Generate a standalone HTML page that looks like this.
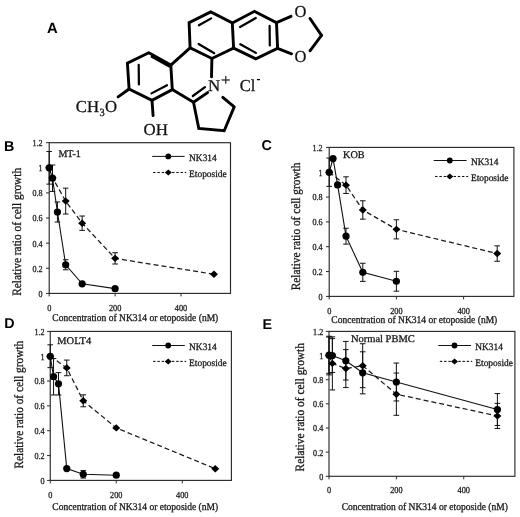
<!DOCTYPE html>
<html><head><meta charset="utf-8"><title>NK314 figure</title>
<style>html,body{margin:0;padding:0;background:#fff;}svg{display:block;}text{text-rendering:geometricPrecision;} .tk{stroke:#222;stroke-width:0.3px;}</style></head>
<body><svg width="520" height="517" viewBox="0 0 520 517">
<rect width="520" height="517" fill="#fff"/>
<text x="47.00" y="33.20" font-family="'Liberation Sans',Arial,sans-serif" font-size="14.8" font-weight="bold" fill="#000">A</text>
<text x="3.90" y="150.90" font-family="'Liberation Sans',Arial,sans-serif" font-size="14.3" font-weight="bold" fill="#000">B</text>
<text x="261.60" y="150.30" font-family="'Liberation Sans',Arial,sans-serif" font-size="14.3" font-weight="bold" fill="#000">C</text>
<text x="4.20" y="328.10" font-family="'Liberation Sans',Arial,sans-serif" font-size="14.3" font-weight="bold" fill="#000">D</text>
<text x="262.40" y="328.90" font-family="'Liberation Sans',Arial,sans-serif" font-size="14.3" font-weight="bold" fill="#000">E</text>
<g stroke-linecap="round">
<polyline points="170.80,65.10 172.30,89.60 152.00,100.30 129.10,89.00 127.40,63.20 148.80,52.80" fill="none" stroke="#000" stroke-width="2.9" stroke-linejoin="miter" stroke-linecap="butt"/>
<line x1="148.80" y1="52.80" x2="170.80" y2="65.10" stroke="#000" stroke-width="2.9"/>
<line x1="151.05" y1="56.01" x2="169.97" y2="66.58" stroke="#000" stroke-width="2.9" stroke-linecap="butt"/>
<line x1="138.70" y1="64.80" x2="138.90" y2="84.40" stroke="#000" stroke-width="2.2"/>
<line x1="151.50" y1="93.40" x2="167.00" y2="85.20" stroke="#000" stroke-width="2.2"/>
<line x1="129.10" y1="89.00" x2="118.10" y2="96.90" stroke="#000" stroke-width="2.9"/>
<line x1="152.00" y1="100.30" x2="153.10" y2="115.60" stroke="#000" stroke-width="2.9"/>
<line x1="170.80" y1="65.10" x2="190.10" y2="47.80" stroke="#000" stroke-width="2.9"/>
<line x1="172.30" y1="89.60" x2="193.50" y2="102.30" stroke="#000" stroke-width="2.9"/>
<polygon points="210.80,11.90 189.10,22.60 190.10,47.80 211.90,58.50 233.60,48.10 232.30,23.00" fill="none" stroke="#000" stroke-width="2.9" stroke-linejoin="miter" stroke-linecap="butt"/>
<line x1="198.90" y1="25.30" x2="211.20" y2="18.40" stroke="#000" stroke-width="2.2"/>
<line x1="198.60" y1="44.00" x2="214.30" y2="53.20" stroke="#000" stroke-width="2.2"/>
<polyline points="232.30,23.00 254.50,11.30 276.50,22.60 277.60,48.40 255.80,58.80 233.60,48.10" fill="none" stroke="#000" stroke-width="2.9" stroke-linejoin="miter" stroke-linecap="butt"/>
<line x1="240.10" y1="27.00" x2="255.80" y2="18.00" stroke="#000" stroke-width="2.2"/>
<line x1="269.60" y1="25.90" x2="269.80" y2="45.50" stroke="#000" stroke-width="2.2"/>
<line x1="240.30" y1="44.20" x2="255.90" y2="52.90" stroke="#000" stroke-width="2.2"/>
<line x1="276.50" y1="22.60" x2="291.00" y2="16.30" stroke="#000" stroke-width="2.9"/>
<line x1="277.60" y1="48.40" x2="291.50" y2="53.80" stroke="#000" stroke-width="2.9"/>
<line x1="310.00" y1="18.50" x2="321.50" y2="35.40" stroke="#000" stroke-width="2.9"/>
<line x1="321.50" y1="35.40" x2="310.00" y2="50.80" stroke="#000" stroke-width="2.9"/>
<line x1="211.90" y1="58.50" x2="211.50" y2="76.90" stroke="#000" stroke-width="2.9"/>
<line x1="193.50" y1="102.30" x2="207.60" y2="92.60" stroke="#000" stroke-width="2.9"/>
<line x1="192.80" y1="96.00" x2="205.00" y2="87.20" stroke="#000" stroke-width="2.2"/>
<line x1="222.80" y1="97.40" x2="234.20" y2="106.90" stroke="#000" stroke-width="2.9"/>
<polyline points="234.20,106.90 224.20,130.80 198.80,128.50 193.50,102.30" fill="none" stroke="#000" stroke-width="2.9" stroke-linejoin="miter" stroke-linecap="butt"/>
</g>
<text class="tk" x="294.40" y="16.60" font-family="'Liberation Serif','Times New Roman',serif" font-size="16.6" textLength="11.9" lengthAdjust="spacingAndGlyphs" fill="#111">O</text>
<text class="tk" x="294.40" y="62.10" font-family="'Liberation Serif','Times New Roman',serif" font-size="16.6" textLength="11.9" lengthAdjust="spacingAndGlyphs" fill="#111">O</text>
<text class="tk" x="208.10" y="91.30" font-family="'Liberation Serif','Times New Roman',serif" font-size="16.6" textLength="12.2" lengthAdjust="spacingAndGlyphs" fill="#111">N</text>
<text class="tk" x="221.00" y="84.60" font-family="'Liberation Serif','Times New Roman',serif" font-size="15.5" textLength="9.4" lengthAdjust="spacingAndGlyphs" fill="#111" stroke="#000" stroke-width="0.5">+</text>
<text class="tk" x="239.80" y="91.30" font-family="'Liberation Serif','Times New Roman',serif" font-size="16.6" textLength="15.6" lengthAdjust="spacingAndGlyphs" fill="#111">Cl</text>
<line x1="256.90" y1="79.60" x2="260.00" y2="79.60" stroke="#000" stroke-width="1.3"/>
<text class="tk" x="143.60" y="134.90" font-family="'Liberation Serif','Times New Roman',serif" font-size="16.6" textLength="24.4" lengthAdjust="spacingAndGlyphs" fill="#111">OH</text>
<text class="tk" x="75.80" y="111.70" font-family="'Liberation Serif','Times New Roman',serif" font-size="16.6" textLength="23.2" lengthAdjust="spacingAndGlyphs" fill="#111">CH</text>
<text class="tk" x="99.60" y="115.60" font-family="'Liberation Serif','Times New Roman',serif" font-size="11" textLength="5.2" lengthAdjust="spacingAndGlyphs" fill="#111">3</text>
<text class="tk" x="105.10" y="111.70" font-family="'Liberation Serif','Times New Roman',serif" font-size="16.6" textLength="12.1" lengthAdjust="spacingAndGlyphs" fill="#111">O</text>
<rect x="49.20" y="142.70" width="181.30" height="150.70" fill="none" stroke="#2a2a2a" stroke-width="1.15"/>
<line x1="46.00" y1="293.40" x2="49.20" y2="293.40" stroke="#2a2a2a" stroke-width="1"/>
<text class="tk" transform="translate(42.60,296.80) scale(0.88,1)" font-family="'Liberation Serif','Times New Roman',serif" font-size="9.2" text-anchor="end" fill="#222">0</text>
<line x1="46.00" y1="268.28" x2="49.20" y2="268.28" stroke="#2a2a2a" stroke-width="1"/>
<text class="tk" transform="translate(42.60,271.68) scale(0.88,1)" font-family="'Liberation Serif','Times New Roman',serif" font-size="9.2" text-anchor="end" fill="#222">0.2</text>
<line x1="46.00" y1="243.16" x2="49.20" y2="243.16" stroke="#2a2a2a" stroke-width="1"/>
<text class="tk" transform="translate(42.60,246.56) scale(0.88,1)" font-family="'Liberation Serif','Times New Roman',serif" font-size="9.2" text-anchor="end" fill="#222">0.4</text>
<line x1="46.00" y1="218.04" x2="49.20" y2="218.04" stroke="#2a2a2a" stroke-width="1"/>
<text class="tk" transform="translate(42.60,221.44) scale(0.88,1)" font-family="'Liberation Serif','Times New Roman',serif" font-size="9.2" text-anchor="end" fill="#222">0.6</text>
<line x1="46.00" y1="192.92" x2="49.20" y2="192.92" stroke="#2a2a2a" stroke-width="1"/>
<text class="tk" transform="translate(42.60,196.32) scale(0.88,1)" font-family="'Liberation Serif','Times New Roman',serif" font-size="9.2" text-anchor="end" fill="#222">0.8</text>
<line x1="46.00" y1="167.80" x2="49.20" y2="167.80" stroke="#2a2a2a" stroke-width="1"/>
<text class="tk" transform="translate(42.60,171.20) scale(0.88,1)" font-family="'Liberation Serif','Times New Roman',serif" font-size="9.2" text-anchor="end" fill="#222">1</text>
<line x1="46.00" y1="142.68" x2="49.20" y2="142.68" stroke="#2a2a2a" stroke-width="1"/>
<text class="tk" transform="translate(42.60,146.08) scale(0.88,1)" font-family="'Liberation Serif','Times New Roman',serif" font-size="9.2" text-anchor="end" fill="#222">1.2</text>
<line x1="49.20" y1="293.40" x2="49.20" y2="296.40" stroke="#2a2a2a" stroke-width="1"/>
<text class="tk" transform="translate(49.20,310.50) scale(0.9,1)" font-family="'Liberation Serif','Times New Roman',serif" font-size="9.2" text-anchor="middle" fill="#222">0</text>
<line x1="115.10" y1="293.40" x2="115.10" y2="296.40" stroke="#2a2a2a" stroke-width="1"/>
<text class="tk" transform="translate(115.10,310.50) scale(0.9,1)" font-family="'Liberation Serif','Times New Roman',serif" font-size="9.2" text-anchor="middle" fill="#222">200</text>
<line x1="181.00" y1="293.40" x2="181.00" y2="296.40" stroke="#2a2a2a" stroke-width="1"/>
<text class="tk" transform="translate(181.00,310.50) scale(0.9,1)" font-family="'Liberation Serif','Times New Roman',serif" font-size="9.2" text-anchor="middle" fill="#222">400</text>
<text class="tk" x="58.40" y="156.60" font-family="'Liberation Serif','Times New Roman',serif" font-size="10.2" textLength="22.4" lengthAdjust="spacingAndGlyphs" fill="#111">MT-1</text>
<line x1="52.50" y1="165.04" x2="52.50" y2="191.41" stroke="#111" stroke-width="1"/>
<line x1="49.70" y1="165.04" x2="55.30" y2="165.04" stroke="#111" stroke-width="1"/>
<line x1="49.70" y1="191.41" x2="55.30" y2="191.41" stroke="#111" stroke-width="1"/>
<line x1="57.44" y1="201.96" x2="57.44" y2="222.06" stroke="#111" stroke-width="1"/>
<line x1="54.64" y1="201.96" x2="60.24" y2="201.96" stroke="#111" stroke-width="1"/>
<line x1="54.64" y1="222.06" x2="60.24" y2="222.06" stroke="#111" stroke-width="1"/>
<line x1="65.68" y1="259.74" x2="65.68" y2="269.79" stroke="#111" stroke-width="1"/>
<line x1="62.88" y1="259.74" x2="68.48" y2="259.74" stroke="#111" stroke-width="1"/>
<line x1="62.88" y1="269.79" x2="68.48" y2="269.79" stroke="#111" stroke-width="1"/>
<line x1="49.20" y1="151.47" x2="49.20" y2="184.13" stroke="#111" stroke-width="1"/>
<line x1="46.40" y1="151.47" x2="52.00" y2="151.47" stroke="#111" stroke-width="1"/>
<line x1="46.40" y1="184.13" x2="52.00" y2="184.13" stroke="#111" stroke-width="1"/>
<line x1="65.68" y1="188.15" x2="65.68" y2="214.02" stroke="#111" stroke-width="1"/>
<line x1="62.88" y1="188.15" x2="68.48" y2="188.15" stroke="#111" stroke-width="1"/>
<line x1="62.88" y1="214.02" x2="68.48" y2="214.02" stroke="#111" stroke-width="1"/>
<line x1="82.15" y1="216.03" x2="82.15" y2="230.35" stroke="#111" stroke-width="1"/>
<line x1="79.35" y1="216.03" x2="84.95" y2="216.03" stroke="#111" stroke-width="1"/>
<line x1="79.35" y1="230.35" x2="84.95" y2="230.35" stroke="#111" stroke-width="1"/>
<line x1="115.10" y1="252.71" x2="115.10" y2="264.01" stroke="#111" stroke-width="1"/>
<line x1="112.30" y1="252.71" x2="117.90" y2="252.71" stroke="#111" stroke-width="1"/>
<line x1="112.30" y1="264.01" x2="117.90" y2="264.01" stroke="#111" stroke-width="1"/>
<polyline points="49.20,167.80 52.50,177.85 65.68,201.08 82.15,223.19 115.10,258.36 213.95,274.31" fill="none" stroke="#1a1a1a" stroke-width="1.25" stroke-dasharray="5,3"/>
<polyline points="49.20,167.80 52.50,178.22 57.44,212.01 65.68,264.76 82.15,283.85 115.10,288.63" fill="none" stroke="#111" stroke-width="1.1"/>
<polygon points="45.20,167.80 49.20,164.10 53.20,167.80 49.20,171.50" fill="#000"/>
<polygon points="48.50,177.85 52.50,174.15 56.50,177.85 52.50,181.55" fill="#000"/>
<polygon points="61.68,201.08 65.68,197.38 69.68,201.08 65.68,204.78" fill="#000"/>
<polygon points="78.15,223.19 82.15,219.49 86.15,223.19 82.15,226.89" fill="#000"/>
<polygon points="111.10,258.36 115.10,254.66 119.10,258.36 115.10,262.06" fill="#000"/>
<polygon points="209.95,274.31 213.95,270.61 217.95,274.31 213.95,278.01" fill="#000"/>
<circle cx="49.20" cy="167.80" r="3.6" fill="#000"/>
<circle cx="52.50" cy="178.22" r="3.6" fill="#000"/>
<circle cx="57.44" cy="212.01" r="3.6" fill="#000"/>
<circle cx="65.68" cy="264.76" r="3.6" fill="#000"/>
<circle cx="82.15" cy="283.85" r="3.6" fill="#000"/>
<circle cx="115.10" cy="288.63" r="3.6" fill="#000"/>
<line x1="152.20" y1="156.40" x2="184.60" y2="156.40" stroke="#111" stroke-width="1.0"/>
<circle cx="168.30" cy="156.40" r="2.9" fill="#000"/>
<line x1="153.10" y1="172.50" x2="155.50" y2="172.50" stroke="#111" stroke-width="1.1" stroke-linecap="butt"/>
<line x1="157.40" y1="172.50" x2="159.80" y2="172.50" stroke="#111" stroke-width="1.1" stroke-linecap="butt"/>
<line x1="161.70" y1="172.50" x2="164.10" y2="172.50" stroke="#111" stroke-width="1.1" stroke-linecap="butt"/>
<line x1="172.10" y1="172.50" x2="174.50" y2="172.50" stroke="#111" stroke-width="1.1" stroke-linecap="butt"/>
<line x1="176.30" y1="172.50" x2="178.70" y2="172.50" stroke="#111" stroke-width="1.1" stroke-linecap="butt"/>
<line x1="180.50" y1="172.50" x2="182.90" y2="172.50" stroke="#111" stroke-width="1.1" stroke-linecap="butt"/>
<line x1="184.70" y1="172.50" x2="186.20" y2="172.50" stroke="#111" stroke-width="1.1" stroke-linecap="butt"/>
<polygon points="164.80,172.50 168.30,169.50 171.80,172.50 168.30,175.50" fill="#000"/>
<text class="tk" x="189.10" y="160.60" font-family="'Liberation Serif','Times New Roman',serif" font-size="9.8" textLength="27.6" lengthAdjust="spacingAndGlyphs" fill="#111">NK314</text>
<text class="tk" x="189.10" y="176.70" font-family="'Liberation Serif','Times New Roman',serif" font-size="9.8" textLength="37.6" lengthAdjust="spacingAndGlyphs" fill="#111">Etoposide</text>
<text transform="translate(20.90,295.80) rotate(-90)" x="0" y="0" font-family="'Liberation Serif','Times New Roman',serif" font-size="12.8" class="tk" textLength="127.9" lengthAdjust="spacingAndGlyphs" fill="#111">Relative ratio of cell growth</text>
<text class="tk" x="52.30" y="320.80" font-family="'Liberation Serif','Times New Roman',serif" font-size="10.4" textLength="166.0" lengthAdjust="spacingAndGlyphs" fill="#111">Concentration of NK314 or etoposide (nM)</text>
<rect x="329.20" y="147.40" width="184.70" height="149.00" fill="none" stroke="#2a2a2a" stroke-width="1.15"/>
<line x1="326.00" y1="296.40" x2="329.20" y2="296.40" stroke="#2a2a2a" stroke-width="1"/>
<text class="tk" transform="translate(322.60,299.80) scale(0.88,1)" font-family="'Liberation Serif','Times New Roman',serif" font-size="9.2" text-anchor="end" fill="#222">0</text>
<line x1="326.00" y1="271.57" x2="329.20" y2="271.57" stroke="#2a2a2a" stroke-width="1"/>
<text class="tk" transform="translate(322.60,274.97) scale(0.88,1)" font-family="'Liberation Serif','Times New Roman',serif" font-size="9.2" text-anchor="end" fill="#222">0.2</text>
<line x1="326.00" y1="246.73" x2="329.20" y2="246.73" stroke="#2a2a2a" stroke-width="1"/>
<text class="tk" transform="translate(322.60,250.13) scale(0.88,1)" font-family="'Liberation Serif','Times New Roman',serif" font-size="9.2" text-anchor="end" fill="#222">0.4</text>
<line x1="326.00" y1="221.90" x2="329.20" y2="221.90" stroke="#2a2a2a" stroke-width="1"/>
<text class="tk" transform="translate(322.60,225.30) scale(0.88,1)" font-family="'Liberation Serif','Times New Roman',serif" font-size="9.2" text-anchor="end" fill="#222">0.6</text>
<line x1="326.00" y1="197.06" x2="329.20" y2="197.06" stroke="#2a2a2a" stroke-width="1"/>
<text class="tk" transform="translate(322.60,200.46) scale(0.88,1)" font-family="'Liberation Serif','Times New Roman',serif" font-size="9.2" text-anchor="end" fill="#222">0.8</text>
<line x1="326.00" y1="172.23" x2="329.20" y2="172.23" stroke="#2a2a2a" stroke-width="1"/>
<text class="tk" transform="translate(322.60,175.63) scale(0.88,1)" font-family="'Liberation Serif','Times New Roman',serif" font-size="9.2" text-anchor="end" fill="#222">1</text>
<line x1="326.00" y1="147.40" x2="329.20" y2="147.40" stroke="#2a2a2a" stroke-width="1"/>
<text class="tk" transform="translate(322.60,150.80) scale(0.88,1)" font-family="'Liberation Serif','Times New Roman',serif" font-size="9.2" text-anchor="end" fill="#222">1.2</text>
<line x1="329.20" y1="296.40" x2="329.20" y2="299.40" stroke="#2a2a2a" stroke-width="1"/>
<text class="tk" transform="translate(329.20,313.60) scale(0.9,1)" font-family="'Liberation Serif','Times New Roman',serif" font-size="9.2" text-anchor="middle" fill="#222">0</text>
<line x1="396.40" y1="296.40" x2="396.40" y2="299.40" stroke="#2a2a2a" stroke-width="1"/>
<text class="tk" transform="translate(396.40,313.60) scale(0.9,1)" font-family="'Liberation Serif','Times New Roman',serif" font-size="9.2" text-anchor="middle" fill="#222">200</text>
<line x1="463.60" y1="296.40" x2="463.60" y2="299.40" stroke="#2a2a2a" stroke-width="1"/>
<text class="tk" transform="translate(463.60,313.60) scale(0.9,1)" font-family="'Liberation Serif','Times New Roman',serif" font-size="9.2" text-anchor="middle" fill="#222">400</text>
<text class="tk" x="343.10" y="158.30" font-family="'Liberation Serif','Times New Roman',serif" font-size="10.2" textLength="21.5" lengthAdjust="spacingAndGlyphs" fill="#111">KOB</text>
<line x1="346.00" y1="228.23" x2="346.00" y2="244.12" stroke="#111" stroke-width="1"/>
<line x1="343.20" y1="228.23" x2="348.80" y2="228.23" stroke="#111" stroke-width="1"/>
<line x1="343.20" y1="244.12" x2="348.80" y2="244.12" stroke="#111" stroke-width="1"/>
<line x1="362.80" y1="263.25" x2="362.80" y2="281.38" stroke="#111" stroke-width="1"/>
<line x1="360.00" y1="263.25" x2="365.60" y2="263.25" stroke="#111" stroke-width="1"/>
<line x1="360.00" y1="281.38" x2="365.60" y2="281.38" stroke="#111" stroke-width="1"/>
<line x1="396.40" y1="271.32" x2="396.40" y2="291.18" stroke="#111" stroke-width="1"/>
<line x1="393.60" y1="271.32" x2="399.20" y2="271.32" stroke="#111" stroke-width="1"/>
<line x1="393.60" y1="291.18" x2="399.20" y2="291.18" stroke="#111" stroke-width="1"/>
<line x1="329.20" y1="158.07" x2="329.20" y2="186.39" stroke="#111" stroke-width="1"/>
<line x1="326.40" y1="158.07" x2="332.00" y2="158.07" stroke="#111" stroke-width="1"/>
<line x1="326.40" y1="186.39" x2="332.00" y2="186.39" stroke="#111" stroke-width="1"/>
<line x1="346.00" y1="176.82" x2="346.00" y2="193.46" stroke="#111" stroke-width="1"/>
<line x1="343.20" y1="176.82" x2="348.80" y2="176.82" stroke="#111" stroke-width="1"/>
<line x1="343.20" y1="193.46" x2="348.80" y2="193.46" stroke="#111" stroke-width="1"/>
<line x1="362.80" y1="200.79" x2="362.80" y2="219.17" stroke="#111" stroke-width="1"/>
<line x1="360.00" y1="200.79" x2="365.60" y2="200.79" stroke="#111" stroke-width="1"/>
<line x1="360.00" y1="219.17" x2="365.60" y2="219.17" stroke="#111" stroke-width="1"/>
<line x1="396.40" y1="219.79" x2="396.40" y2="238.91" stroke="#111" stroke-width="1"/>
<line x1="393.60" y1="219.79" x2="399.20" y2="219.79" stroke="#111" stroke-width="1"/>
<line x1="393.60" y1="238.91" x2="399.20" y2="238.91" stroke="#111" stroke-width="1"/>
<line x1="497.20" y1="245.86" x2="497.20" y2="261.26" stroke="#111" stroke-width="1"/>
<line x1="494.40" y1="245.86" x2="500.00" y2="245.86" stroke="#111" stroke-width="1"/>
<line x1="494.40" y1="261.26" x2="500.00" y2="261.26" stroke="#111" stroke-width="1"/>
<polyline points="329.20,172.23 346.00,185.14 362.80,209.98 396.40,229.35 497.20,253.56" fill="none" stroke="#1a1a1a" stroke-width="1.25" stroke-dasharray="5,3"/>
<polyline points="329.20,172.23 333.06,158.57 337.60,184.90 346.00,236.18 362.80,272.31 396.40,281.25" fill="none" stroke="#111" stroke-width="1.1"/>
<polygon points="325.20,172.23 329.20,168.53 333.20,172.23 329.20,175.93" fill="#000"/>
<polygon points="342.00,185.14 346.00,181.44 350.00,185.14 346.00,188.84" fill="#000"/>
<polygon points="358.80,209.98 362.80,206.28 366.80,209.98 362.80,213.68" fill="#000"/>
<polygon points="392.40,229.35 396.40,225.65 400.40,229.35 396.40,233.05" fill="#000"/>
<polygon points="493.20,253.56 497.20,249.86 501.20,253.56 497.20,257.26" fill="#000"/>
<circle cx="329.20" cy="172.23" r="3.6" fill="#000"/>
<circle cx="333.06" cy="158.57" r="3.6" fill="#000"/>
<circle cx="337.60" cy="184.90" r="3.6" fill="#000"/>
<circle cx="346.00" cy="236.18" r="3.6" fill="#000"/>
<circle cx="362.80" cy="272.31" r="3.6" fill="#000"/>
<circle cx="396.40" cy="281.25" r="3.6" fill="#000"/>
<line x1="433.70" y1="160.50" x2="466.60" y2="160.50" stroke="#111" stroke-width="1.0"/>
<circle cx="449.80" cy="160.50" r="2.9" fill="#000"/>
<line x1="435.10" y1="176.50" x2="437.50" y2="176.50" stroke="#111" stroke-width="1.1" stroke-linecap="butt"/>
<line x1="439.40" y1="176.50" x2="441.80" y2="176.50" stroke="#111" stroke-width="1.1" stroke-linecap="butt"/>
<line x1="443.70" y1="176.50" x2="446.10" y2="176.50" stroke="#111" stroke-width="1.1" stroke-linecap="butt"/>
<line x1="453.60" y1="176.50" x2="456.00" y2="176.50" stroke="#111" stroke-width="1.1" stroke-linecap="butt"/>
<line x1="457.80" y1="176.50" x2="460.20" y2="176.50" stroke="#111" stroke-width="1.1" stroke-linecap="butt"/>
<line x1="462.00" y1="176.50" x2="464.40" y2="176.50" stroke="#111" stroke-width="1.1" stroke-linecap="butt"/>
<line x1="466.20" y1="176.50" x2="468.20" y2="176.50" stroke="#111" stroke-width="1.1" stroke-linecap="butt"/>
<polygon points="446.30,176.50 449.80,173.50 453.30,176.50 449.80,179.50" fill="#000"/>
<text class="tk" x="470.90" y="164.70" font-family="'Liberation Serif','Times New Roman',serif" font-size="9.8" textLength="27.6" lengthAdjust="spacingAndGlyphs" fill="#111">NK314</text>
<text class="tk" x="470.90" y="180.70" font-family="'Liberation Serif','Times New Roman',serif" font-size="9.8" textLength="37.6" lengthAdjust="spacingAndGlyphs" fill="#111">Etoposide</text>
<text transform="translate(300.30,290.20) rotate(-90)" x="0" y="0" font-family="'Liberation Serif','Times New Roman',serif" font-size="12.8" class="tk" textLength="127.6" lengthAdjust="spacingAndGlyphs" fill="#111">Relative ratio of cell growth</text>
<text class="tk" x="331.30" y="322.70" font-family="'Liberation Serif','Times New Roman',serif" font-size="10.4" textLength="166.0" lengthAdjust="spacingAndGlyphs" fill="#111">Concentration of NK314 or etoposide (nM)</text>
<rect x="50.25" y="331.40" width="181.15" height="149.00" fill="none" stroke="#2a2a2a" stroke-width="1.15"/>
<line x1="47.05" y1="480.40" x2="50.25" y2="480.40" stroke="#2a2a2a" stroke-width="1"/>
<text class="tk" transform="translate(44.50,483.80) scale(0.88,1)" font-family="'Liberation Serif','Times New Roman',serif" font-size="9.2" text-anchor="end" fill="#222">0</text>
<line x1="47.05" y1="455.57" x2="50.25" y2="455.57" stroke="#2a2a2a" stroke-width="1"/>
<text class="tk" transform="translate(44.50,458.97) scale(0.88,1)" font-family="'Liberation Serif','Times New Roman',serif" font-size="9.2" text-anchor="end" fill="#222">0.2</text>
<line x1="47.05" y1="430.73" x2="50.25" y2="430.73" stroke="#2a2a2a" stroke-width="1"/>
<text class="tk" transform="translate(44.50,434.13) scale(0.88,1)" font-family="'Liberation Serif','Times New Roman',serif" font-size="9.2" text-anchor="end" fill="#222">0.4</text>
<line x1="47.05" y1="405.90" x2="50.25" y2="405.90" stroke="#2a2a2a" stroke-width="1"/>
<text class="tk" transform="translate(44.50,409.30) scale(0.88,1)" font-family="'Liberation Serif','Times New Roman',serif" font-size="9.2" text-anchor="end" fill="#222">0.6</text>
<line x1="47.05" y1="381.06" x2="50.25" y2="381.06" stroke="#2a2a2a" stroke-width="1"/>
<text class="tk" transform="translate(44.50,384.46) scale(0.88,1)" font-family="'Liberation Serif','Times New Roman',serif" font-size="9.2" text-anchor="end" fill="#222">0.8</text>
<line x1="47.05" y1="356.23" x2="50.25" y2="356.23" stroke="#2a2a2a" stroke-width="1"/>
<text class="tk" transform="translate(44.50,359.63) scale(0.88,1)" font-family="'Liberation Serif','Times New Roman',serif" font-size="9.2" text-anchor="end" fill="#222">1</text>
<line x1="47.05" y1="331.40" x2="50.25" y2="331.40" stroke="#2a2a2a" stroke-width="1"/>
<text class="tk" transform="translate(44.50,334.80) scale(0.88,1)" font-family="'Liberation Serif','Times New Roman',serif" font-size="9.2" text-anchor="end" fill="#222">1.2</text>
<line x1="50.25" y1="480.40" x2="50.25" y2="483.40" stroke="#2a2a2a" stroke-width="1"/>
<text class="tk" transform="translate(50.25,497.50) scale(0.9,1)" font-family="'Liberation Serif','Times New Roman',serif" font-size="9.2" text-anchor="middle" fill="#222">0</text>
<line x1="116.25" y1="480.40" x2="116.25" y2="483.40" stroke="#2a2a2a" stroke-width="1"/>
<text class="tk" transform="translate(116.25,497.50) scale(0.9,1)" font-family="'Liberation Serif','Times New Roman',serif" font-size="9.2" text-anchor="middle" fill="#222">200</text>
<line x1="182.25" y1="480.40" x2="182.25" y2="483.40" stroke="#2a2a2a" stroke-width="1"/>
<text class="tk" transform="translate(182.25,497.50) scale(0.9,1)" font-family="'Liberation Serif','Times New Roman',serif" font-size="9.2" text-anchor="middle" fill="#222">400</text>
<text class="tk" x="57.30" y="343.60" font-family="'Liberation Serif','Times New Roman',serif" font-size="10.2" textLength="33.9" lengthAdjust="spacingAndGlyphs" fill="#111">MOLT4</text>
<line x1="53.55" y1="358.47" x2="53.55" y2="394.97" stroke="#111" stroke-width="1"/>
<line x1="50.75" y1="358.47" x2="56.35" y2="358.47" stroke="#111" stroke-width="1"/>
<line x1="50.75" y1="394.97" x2="56.35" y2="394.97" stroke="#111" stroke-width="1"/>
<line x1="58.50" y1="372.62" x2="58.50" y2="394.97" stroke="#111" stroke-width="1"/>
<line x1="55.70" y1="372.62" x2="61.30" y2="372.62" stroke="#111" stroke-width="1"/>
<line x1="55.70" y1="394.97" x2="61.30" y2="394.97" stroke="#111" stroke-width="1"/>
<line x1="83.25" y1="470.59" x2="83.25" y2="478.04" stroke="#111" stroke-width="1"/>
<line x1="80.45" y1="470.59" x2="86.05" y2="470.59" stroke="#111" stroke-width="1"/>
<line x1="80.45" y1="478.04" x2="86.05" y2="478.04" stroke="#111" stroke-width="1"/>
<line x1="50.25" y1="344.81" x2="50.25" y2="367.65" stroke="#111" stroke-width="1"/>
<line x1="47.45" y1="344.81" x2="53.05" y2="344.81" stroke="#111" stroke-width="1"/>
<line x1="47.45" y1="367.65" x2="53.05" y2="367.65" stroke="#111" stroke-width="1"/>
<line x1="66.75" y1="360.08" x2="66.75" y2="375.72" stroke="#111" stroke-width="1"/>
<line x1="63.95" y1="360.08" x2="69.55" y2="360.08" stroke="#111" stroke-width="1"/>
<line x1="63.95" y1="375.72" x2="69.55" y2="375.72" stroke="#111" stroke-width="1"/>
<line x1="83.25" y1="394.85" x2="83.25" y2="406.77" stroke="#111" stroke-width="1"/>
<line x1="80.45" y1="394.85" x2="86.05" y2="394.85" stroke="#111" stroke-width="1"/>
<line x1="80.45" y1="406.77" x2="86.05" y2="406.77" stroke="#111" stroke-width="1"/>
<polyline points="50.25,356.23 66.75,367.90 83.25,400.81 116.25,427.88 215.25,468.73" fill="none" stroke="#1a1a1a" stroke-width="1.25" stroke-dasharray="5,3"/>
<polyline points="50.25,356.23 53.55,376.72 58.50,383.80 66.75,468.60 83.25,474.32 116.25,475.18" fill="none" stroke="#111" stroke-width="1.1"/>
<polygon points="46.25,356.23 50.25,352.53 54.25,356.23 50.25,359.93" fill="#000"/>
<polygon points="62.75,367.90 66.75,364.20 70.75,367.90 66.75,371.60" fill="#000"/>
<polygon points="79.25,400.81 83.25,397.11 87.25,400.81 83.25,404.51" fill="#000"/>
<polygon points="112.25,427.88 116.25,424.18 120.25,427.88 116.25,431.58" fill="#000"/>
<polygon points="211.25,468.73 215.25,465.03 219.25,468.73 215.25,472.43" fill="#000"/>
<circle cx="50.25" cy="356.23" r="3.6" fill="#000"/>
<circle cx="53.55" cy="376.72" r="3.6" fill="#000"/>
<circle cx="58.50" cy="383.80" r="3.6" fill="#000"/>
<circle cx="66.75" cy="468.60" r="3.6" fill="#000"/>
<circle cx="83.25" cy="474.32" r="3.6" fill="#000"/>
<circle cx="116.25" cy="475.18" r="3.6" fill="#000"/>
<line x1="152.20" y1="345.50" x2="184.80" y2="345.50" stroke="#111" stroke-width="1.0"/>
<circle cx="168.20" cy="345.50" r="2.9" fill="#000"/>
<line x1="153.10" y1="361.40" x2="155.50" y2="361.40" stroke="#111" stroke-width="1.1" stroke-linecap="butt"/>
<line x1="157.40" y1="361.40" x2="159.80" y2="361.40" stroke="#111" stroke-width="1.1" stroke-linecap="butt"/>
<line x1="161.70" y1="361.40" x2="164.10" y2="361.40" stroke="#111" stroke-width="1.1" stroke-linecap="butt"/>
<line x1="172.00" y1="361.40" x2="174.40" y2="361.40" stroke="#111" stroke-width="1.1" stroke-linecap="butt"/>
<line x1="176.20" y1="361.40" x2="178.60" y2="361.40" stroke="#111" stroke-width="1.1" stroke-linecap="butt"/>
<line x1="180.40" y1="361.40" x2="182.80" y2="361.40" stroke="#111" stroke-width="1.1" stroke-linecap="butt"/>
<line x1="184.60" y1="361.40" x2="186.20" y2="361.40" stroke="#111" stroke-width="1.1" stroke-linecap="butt"/>
<polygon points="164.70,361.40 168.20,358.40 171.70,361.40 168.20,364.40" fill="#000"/>
<text class="tk" x="189.10" y="349.70" font-family="'Liberation Serif','Times New Roman',serif" font-size="9.8" textLength="27.6" lengthAdjust="spacingAndGlyphs" fill="#111">NK314</text>
<text class="tk" x="189.10" y="365.60" font-family="'Liberation Serif','Times New Roman',serif" font-size="9.8" textLength="37.6" lengthAdjust="spacingAndGlyphs" fill="#111">Etoposide</text>
<text transform="translate(23.20,468.50) rotate(-90)" x="0" y="0" font-family="'Liberation Serif','Times New Roman',serif" font-size="12.8" class="tk" textLength="127.7" lengthAdjust="spacingAndGlyphs" fill="#111">Relative ratio of cell growth</text>
<text class="tk" x="52.30" y="510.00" font-family="'Liberation Serif','Times New Roman',serif" font-size="10.4" textLength="165.9" lengthAdjust="spacingAndGlyphs" fill="#111">Concentration of NK314 or etoposide (nM)</text>
<rect x="329.00" y="331.40" width="185.90" height="144.90" fill="none" stroke="#2a2a2a" stroke-width="1.15"/>
<line x1="325.80" y1="476.30" x2="329.00" y2="476.30" stroke="#2a2a2a" stroke-width="1"/>
<text class="tk" transform="translate(323.20,479.70) scale(0.88,1)" font-family="'Liberation Serif','Times New Roman',serif" font-size="9.2" text-anchor="end" fill="#222">0</text>
<line x1="325.80" y1="452.15" x2="329.00" y2="452.15" stroke="#2a2a2a" stroke-width="1"/>
<text class="tk" transform="translate(323.20,455.55) scale(0.88,1)" font-family="'Liberation Serif','Times New Roman',serif" font-size="9.2" text-anchor="end" fill="#222">0.2</text>
<line x1="325.80" y1="428.00" x2="329.00" y2="428.00" stroke="#2a2a2a" stroke-width="1"/>
<text class="tk" transform="translate(323.20,431.40) scale(0.88,1)" font-family="'Liberation Serif','Times New Roman',serif" font-size="9.2" text-anchor="end" fill="#222">0.4</text>
<line x1="325.80" y1="403.85" x2="329.00" y2="403.85" stroke="#2a2a2a" stroke-width="1"/>
<text class="tk" transform="translate(323.20,407.25) scale(0.88,1)" font-family="'Liberation Serif','Times New Roman',serif" font-size="9.2" text-anchor="end" fill="#222">0.6</text>
<line x1="325.80" y1="379.70" x2="329.00" y2="379.70" stroke="#2a2a2a" stroke-width="1"/>
<text class="tk" transform="translate(323.20,383.10) scale(0.88,1)" font-family="'Liberation Serif','Times New Roman',serif" font-size="9.2" text-anchor="end" fill="#222">0.8</text>
<line x1="325.80" y1="355.55" x2="329.00" y2="355.55" stroke="#2a2a2a" stroke-width="1"/>
<text class="tk" transform="translate(323.20,358.95) scale(0.88,1)" font-family="'Liberation Serif','Times New Roman',serif" font-size="9.2" text-anchor="end" fill="#222">1</text>
<line x1="325.80" y1="331.40" x2="329.00" y2="331.40" stroke="#2a2a2a" stroke-width="1"/>
<text class="tk" transform="translate(323.20,334.80) scale(0.88,1)" font-family="'Liberation Serif','Times New Roman',serif" font-size="9.2" text-anchor="end" fill="#222">1.2</text>
<line x1="329.00" y1="476.30" x2="329.00" y2="479.30" stroke="#2a2a2a" stroke-width="1"/>
<text class="tk" transform="translate(329.00,493.10) scale(0.9,1)" font-family="'Liberation Serif','Times New Roman',serif" font-size="9.2" text-anchor="middle" fill="#222">0</text>
<line x1="396.36" y1="476.30" x2="396.36" y2="479.30" stroke="#2a2a2a" stroke-width="1"/>
<text class="tk" transform="translate(396.36,493.10) scale(0.9,1)" font-family="'Liberation Serif','Times New Roman',serif" font-size="9.2" text-anchor="middle" fill="#222">200</text>
<line x1="463.72" y1="476.30" x2="463.72" y2="479.30" stroke="#2a2a2a" stroke-width="1"/>
<text class="tk" transform="translate(463.72,493.10) scale(0.9,1)" font-family="'Liberation Serif','Times New Roman',serif" font-size="9.2" text-anchor="middle" fill="#222">400</text>
<text class="tk" x="350.90" y="342.00" font-family="'Liberation Serif','Times New Roman',serif" font-size="10.2" textLength="63.9" lengthAdjust="spacingAndGlyphs" fill="#111">Normal PBMC</text>
<line x1="329.00" y1="337.08" x2="329.00" y2="373.30" stroke="#111" stroke-width="1"/>
<line x1="326.20" y1="337.08" x2="331.80" y2="337.08" stroke="#111" stroke-width="1"/>
<line x1="326.20" y1="373.30" x2="331.80" y2="373.30" stroke="#111" stroke-width="1"/>
<line x1="332.37" y1="338.64" x2="332.37" y2="372.46" stroke="#111" stroke-width="1"/>
<line x1="329.57" y1="338.64" x2="335.17" y2="338.64" stroke="#111" stroke-width="1"/>
<line x1="329.57" y1="372.46" x2="335.17" y2="372.46" stroke="#111" stroke-width="1"/>
<line x1="345.84" y1="341.42" x2="345.84" y2="380.06" stroke="#111" stroke-width="1"/>
<line x1="343.04" y1="341.42" x2="348.64" y2="341.42" stroke="#111" stroke-width="1"/>
<line x1="343.04" y1="380.06" x2="348.64" y2="380.06" stroke="#111" stroke-width="1"/>
<line x1="362.68" y1="351.81" x2="362.68" y2="393.83" stroke="#111" stroke-width="1"/>
<line x1="359.88" y1="351.81" x2="365.48" y2="351.81" stroke="#111" stroke-width="1"/>
<line x1="359.88" y1="393.83" x2="365.48" y2="393.83" stroke="#111" stroke-width="1"/>
<line x1="396.36" y1="363.04" x2="396.36" y2="400.95" stroke="#111" stroke-width="1"/>
<line x1="393.56" y1="363.04" x2="399.16" y2="363.04" stroke="#111" stroke-width="1"/>
<line x1="393.56" y1="400.95" x2="399.16" y2="400.95" stroke="#111" stroke-width="1"/>
<line x1="497.40" y1="393.59" x2="497.40" y2="425.46" stroke="#111" stroke-width="1"/>
<line x1="494.60" y1="393.59" x2="500.20" y2="393.59" stroke="#111" stroke-width="1"/>
<line x1="494.60" y1="425.46" x2="500.20" y2="425.46" stroke="#111" stroke-width="1"/>
<line x1="329.00" y1="336.23" x2="329.00" y2="374.87" stroke="#111" stroke-width="1"/>
<line x1="326.20" y1="336.23" x2="331.80" y2="336.23" stroke="#111" stroke-width="1"/>
<line x1="326.20" y1="374.87" x2="331.80" y2="374.87" stroke="#111" stroke-width="1"/>
<line x1="332.37" y1="336.83" x2="332.37" y2="389.96" stroke="#111" stroke-width="1"/>
<line x1="329.57" y1="336.83" x2="335.17" y2="336.83" stroke="#111" stroke-width="1"/>
<line x1="329.57" y1="389.96" x2="335.17" y2="389.96" stroke="#111" stroke-width="1"/>
<line x1="345.84" y1="349.63" x2="345.84" y2="387.55" stroke="#111" stroke-width="1"/>
<line x1="343.04" y1="349.63" x2="348.64" y2="349.63" stroke="#111" stroke-width="1"/>
<line x1="343.04" y1="387.55" x2="348.64" y2="387.55" stroke="#111" stroke-width="1"/>
<line x1="362.68" y1="343.72" x2="362.68" y2="387.67" stroke="#111" stroke-width="1"/>
<line x1="359.88" y1="343.72" x2="365.48" y2="343.72" stroke="#111" stroke-width="1"/>
<line x1="359.88" y1="387.67" x2="365.48" y2="387.67" stroke="#111" stroke-width="1"/>
<line x1="396.36" y1="373.06" x2="396.36" y2="415.32" stroke="#111" stroke-width="1"/>
<line x1="393.56" y1="373.06" x2="399.16" y2="373.06" stroke="#111" stroke-width="1"/>
<line x1="393.56" y1="415.32" x2="399.16" y2="415.32" stroke="#111" stroke-width="1"/>
<line x1="497.40" y1="403.37" x2="497.40" y2="428.48" stroke="#111" stroke-width="1"/>
<line x1="494.60" y1="403.37" x2="500.20" y2="403.37" stroke="#111" stroke-width="1"/>
<line x1="494.60" y1="428.48" x2="500.20" y2="428.48" stroke="#111" stroke-width="1"/>
<polyline points="329.00,355.55 332.37,363.40 345.84,368.59 362.68,365.69 396.36,394.19 497.40,415.93" fill="none" stroke="#1a1a1a" stroke-width="1.25" stroke-dasharray="5,3"/>
<polyline points="329.00,355.19 332.37,355.55 345.84,360.74 362.68,372.82 396.36,381.99 497.40,409.53" fill="none" stroke="#111" stroke-width="1.1"/>
<polygon points="325.00,355.55 329.00,351.85 333.00,355.55 329.00,359.25" fill="#000"/>
<polygon points="328.37,363.40 332.37,359.70 336.37,363.40 332.37,367.10" fill="#000"/>
<polygon points="341.84,368.59 345.84,364.89 349.84,368.59 345.84,372.29" fill="#000"/>
<polygon points="358.68,365.69 362.68,361.99 366.68,365.69 362.68,369.39" fill="#000"/>
<polygon points="392.36,394.19 396.36,390.49 400.36,394.19 396.36,397.89" fill="#000"/>
<polygon points="493.40,415.93 497.40,412.23 501.40,415.93 497.40,419.62" fill="#000"/>
<circle cx="329.00" cy="355.19" r="3.6" fill="#000"/>
<circle cx="332.37" cy="355.55" r="3.6" fill="#000"/>
<circle cx="345.84" cy="360.74" r="3.6" fill="#000"/>
<circle cx="362.68" cy="372.82" r="3.6" fill="#000"/>
<circle cx="396.36" cy="381.99" r="3.6" fill="#000"/>
<circle cx="497.40" cy="409.53" r="3.6" fill="#000"/>
<line x1="438.30" y1="345.50" x2="471.00" y2="345.50" stroke="#111" stroke-width="1.0"/>
<circle cx="454.50" cy="345.50" r="2.9" fill="#000"/>
<line x1="439.80" y1="361.40" x2="442.20" y2="361.40" stroke="#111" stroke-width="1.1" stroke-linecap="butt"/>
<line x1="444.10" y1="361.40" x2="446.50" y2="361.40" stroke="#111" stroke-width="1.1" stroke-linecap="butt"/>
<line x1="448.40" y1="361.40" x2="450.80" y2="361.40" stroke="#111" stroke-width="1.1" stroke-linecap="butt"/>
<line x1="458.30" y1="361.40" x2="460.70" y2="361.40" stroke="#111" stroke-width="1.1" stroke-linecap="butt"/>
<line x1="462.50" y1="361.40" x2="464.90" y2="361.40" stroke="#111" stroke-width="1.1" stroke-linecap="butt"/>
<line x1="466.70" y1="361.40" x2="469.10" y2="361.40" stroke="#111" stroke-width="1.1" stroke-linecap="butt"/>
<line x1="470.90" y1="361.40" x2="472.20" y2="361.40" stroke="#111" stroke-width="1.1" stroke-linecap="butt"/>
<polygon points="451.00,361.40 454.50,358.40 458.00,361.40 454.50,364.40" fill="#000"/>
<text class="tk" x="475.30" y="349.70" font-family="'Liberation Serif','Times New Roman',serif" font-size="9.8" textLength="27.6" lengthAdjust="spacingAndGlyphs" fill="#111">NK314</text>
<text class="tk" x="475.30" y="365.60" font-family="'Liberation Serif','Times New Roman',serif" font-size="9.8" textLength="37.6" lengthAdjust="spacingAndGlyphs" fill="#111">Etoposide</text>
<text transform="translate(303.70,471.40) rotate(-90)" x="0" y="0" font-family="'Liberation Serif','Times New Roman',serif" font-size="12.8" class="tk" textLength="128.3" lengthAdjust="spacingAndGlyphs" fill="#111">Relative ratio of cell growth</text>
<text class="tk" x="341.70" y="509.80" font-family="'Liberation Serif','Times New Roman',serif" font-size="10.4" textLength="166.3" lengthAdjust="spacingAndGlyphs" fill="#111">Concentration of NK314 or etoposide (nM)</text>
</svg></body></html>
